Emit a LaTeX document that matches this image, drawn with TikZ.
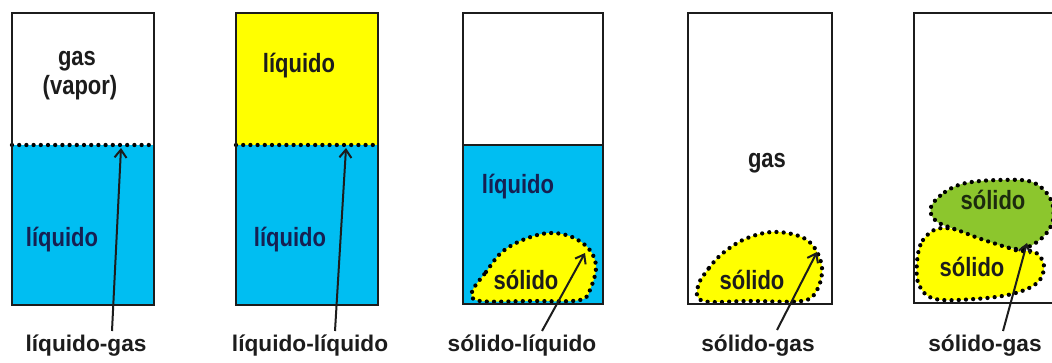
\documentclass[tikz,border=0pt]{standalone}
\usepackage{graphicx}
\usepackage{fontspec}
\setmainfont{Liberation Sans}
\usetikzlibrary{arrows.meta}
\definecolor{cyanfill}{RGB}{0,190,242}
\definecolor{yel}{RGB}{255,255,0}
\definecolor{grn}{RGB}{140,198,45}
\definecolor{navy}{RGB}{22,32,82}
\definecolor{ink}{RGB}{28,28,28}
\definecolor{dkgreen}{RGB}{28,42,14}
\newcommand{\tallt}[1]{\scalebox{1}[1.2]{#1}}
\begin{document}
\begin{tikzpicture}[x=0.75pt,y=-0.75pt,
  box/.style={draw=ink,line width=1.7pt},
  dots/.style={draw=black,line width=3.2pt,line cap=round,dash pattern=on 0pt off 5.4pt},
  inner/.style={font=\bfseries\fontsize{16.5}{18}\selectfont,text=ink,inner sep=0pt},
  capt/.style={font=\bfseries\fontsize{17}{19}\selectfont,text=ink,inner sep=0pt},
  ptr/.style={draw=ink,line width=1.5pt,-{Straight Barb[length=6pt,width=9pt]}}]
\useasboundingbox (0,0) rectangle (1052,363);
\clip (0,0) rectangle (1052,363);
\fill[white] (0,0) rectangle (1052,363);

% ---- box 1: liquido-gas
\fill[cyanfill] (12,145) rectangle (154,305);
\draw[dots] (12,145) -- (154,145);
\draw[box] (12,13) rectangle (154,305);
\node[inner] (g1) at (77,61) {\tallt{gas}};
\node[inner] (v1) at (80,88) {\tallt{(vapor)}};
\node[inner,text=navy] (l1) at (62,240) {\tallt{líquido}};
\node[capt] (c1) at (86,346) {líquido-gas};
\coordinate (t1) at (112,331);
\coordinate (h1) at (121,148);
\draw[ptr] (t1) -- (h1);

% ---- box 2: liquido-liquido
\fill[yel] (236,13) rectangle (378,145);
\fill[cyanfill] (236,145) rectangle (378,305);
\draw[dots] (236,145) -- (378,145);
\draw[box] (236,13) rectangle (378,305);
\node[inner] (l2a) at (299,66) {\tallt{líquido}};
\node[inner,text=navy] (l2b) at (290,240) {\tallt{líquido}};
\node[capt] (c2) at (310,346) {líquido-líquido};
\coordinate (t2) at (335,331);
\coordinate (h2) at (346,148);
\draw[ptr] (t2) -- (h2);

% ---- box 3: solido-liquido
\fill[cyanfill] (463,145) rectangle (603,304);
\path[fill=yel] plot[smooth cycle,tension=0.6] coordinates {(472,292) (486,272) (502,252) (525,239) (550,233) (572,237) (589,249) (596,266) (591,287) (580,300) (530,301) (480,301)};
\draw[dots] plot[smooth cycle,tension=0.6] coordinates {(472,292) (486,272) (502,252) (525,239) (550,233) (572,237) (589,249) (596,266) (591,287) (580,300) (530,301) (480,301)};
\draw[box] (463,13) rectangle (603,304);
\draw[box] (463,145) -- (603,145);
\node[inner,text=navy] (l3) at (518,187) {\tallt{líquido}};
\node[inner] (s3) at (526,280) {\tallt{sólido}};
\node[capt] (c3) at (522,346) {sólido-líquido};
\coordinate (t3) at (542,331);
\coordinate (h3) at (585,253);
\draw[ptr] (t3) -- (h3);

% ---- box 4: solido-gas
\path[fill=yel] plot[smooth cycle,tension=0.6] coordinates {(698,286) (709,268) (723,253) (745,239) (772,232) (799,236) (814,247) (822,268) (817,290) (802,301) (750,301) (703,301)};
\draw[dots] plot[smooth cycle,tension=0.6] coordinates {(698,286) (709,268) (723,253) (745,239) (772,232) (799,236) (814,247) (822,268) (817,290) (802,301) (750,301) (703,301)};
\draw[box] (688,13) rectangle (832,304);
\node[inner] (g4) at (767,163) {\tallt{gas}};
\node[inner] (s4) at (752,280) {\tallt{sólido}};
\node[capt] (c4) at (758,346) {sólido-gas};
\coordinate (t4) at (777,330);
\coordinate (h4) at (817,252);
\draw[ptr] (t4) -- (h4);

% ---- box 5: solido-gas (two solids)
\path[fill=yel] plot[smooth cycle,tension=0.6] coordinates {(917,262) (923,240) (942,228) (980,236) (1015,250) (1035,252) (1044,266) (1037,283) (1012,294) (975,299) (935,299) (919,285)};
\draw[dots] plot[smooth cycle,tension=0.6] coordinates {(917,262) (923,240) (942,228) (980,236) (1015,250) (1035,252) (1044,266) (1037,283) (1012,294) (975,299) (935,299) (919,285)};
\path[fill=grn] plot[smooth cycle,tension=0.6] coordinates {(931,207) (945,192) (966,183) (1000,180) (1032,182) (1050,198) (1053,220) (1042,238) (1020,249) (990,242) (960,231) (936,221)};
\draw[dots] plot[smooth cycle,tension=0.6] coordinates {(931,207) (945,192) (966,183) (1000,180) (1032,182) (1050,198) (1053,220) (1042,238) (1020,249) (990,242) (960,231) (936,221)};
\draw[box] (914,13) rectangle (1070,303);
\node[inner,text=dkgreen] (s5a) at (993,200) {\tallt{sólido}};
\node[inner] (s5b) at (972,267) {\tallt{sólido}};
\node[capt] (c5) at (985,346) {sólido-gas};
\coordinate (t5) at (1003,331);
\coordinate (h5) at (1027,243);
\draw[ptr] (t5) -- (h5);
\end{tikzpicture}
\end{document}
